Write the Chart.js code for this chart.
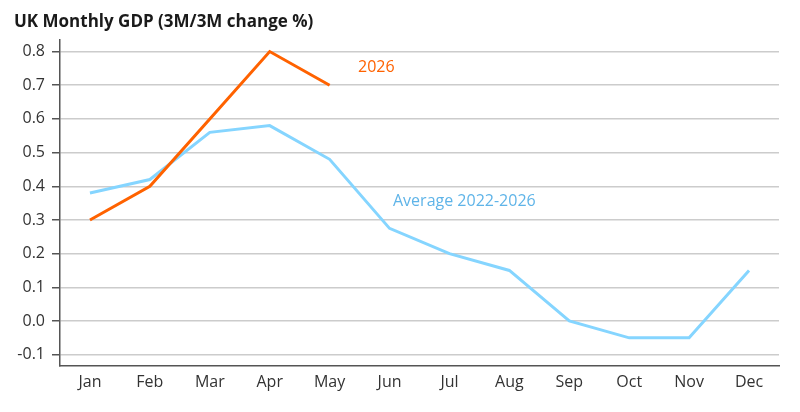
<!DOCTYPE html>
<html>
<head>
<meta charset="utf-8">
<script src="https://cdn.jsdelivr.net/npm/chart.js@4.4.1/dist/chart.umd.min.js"></script>
<style>
  html, body { margin: 0; padding: 0; background: #fff; }
  #wrap { width: 800px; height: 412px; }
</style>
</head>
<body>
<div id="wrap"><canvas id="gdpChart"></canvas></div>
<script>
const months = ["Jan", "Feb", "Mar", "Apr", "May", "Jun", "Jul", "Aug", "Sep", "Oct", "Nov", "Dec"];
const year2026 = [0.30, 0.40, 0.60, 0.80, 0.70];
const average = [0.38, 0.42, 0.56, 0.58, 0.48, 0.275, 0.20, 0.15, 0.00, -0.05, -0.05, 0.15];
const yTicks = [-0.1, 0.0, 0.1, 0.2, 0.3, 0.4, 0.5, 0.6, 0.7, 0.8];

const orange = "#ff6200";
const blue = "#85d5ff";
const font = "'Open Sans', 'Noto Sans', sans-serif";

// series labels drawn next to the lines
const lineLabels = {
  id: "lineLabels",
  afterDatasetsDraw(chart) {
    const ctx = chart.ctx;
    ctx.save();
    ctx.font = "16px " + font;
    ctx.textBaseline = "middle";
    ctx.fillStyle = orange;
    ctx.fillText("2026", 358, 67);
    ctx.fillStyle = "#5fb4e8";
    ctx.fillText("Average 2022-2026", 393, 201);
    ctx.restore();
  },
};

const ctx = document.getElementById("gdpChart").getContext("2d");
const chart = new Chart(ctx, {
  type: "line",
  data: {
    labels: months,
    datasets: [
      {
        label: "2026",
        data: year2026,
        borderColor: orange,
        borderWidth: 3,
        pointRadius: 0,
        tension: 0,
      },
      {
        label: "Average 2022-2026",
        data: average,
        borderColor: blue,
        borderWidth: 3,
        pointRadius: 0,
        tension: 0,
      },
    ],
  },
  options: {
    responsive: true,
    maintainAspectRatio: false,
    animation: false,
    layout: { padding: { left: 14, right: 21, top: 0, bottom: 13 } },
    plugins: {
      legend: { display: false },
      tooltip: { enabled: false },
      title: {
        display: true,
        text: "UK Monthly GDP (3M/3M change %)",
        align: "start",
        color: "#1a1a1a",
        font: { family: font, size: 17, weight: "bold" },
        padding: { top: 12, bottom: 7 },
      },
    },
    scales: {
      x: {
        offset: true,
        grid: { display: false, drawTicks: false },
        border: { color: "#555", width: 1.5 },
        ticks: { color: "#333", font: { family: font, size: 16 }, padding: 7 },
      },
      y: {
        min: -0.133,
        max: 0.836,
        afterBuildTicks(scale) {
          scale.ticks = yTicks.map((v) => ({ value: v }));
        },
        afterFit(scale) {
          scale.width = 46;
        },
        grid: { color: "#cccccc", lineWidth: 1.5, tickLength: 8, tickColor: "#555" },
        border: { color: "#555", width: 1.5 },
        ticks: {
          color: "#333",
          font: { family: font, size: 16 },
          padding: 7,
          callback: (v) => v.toFixed(1),
        },
      },
    },
  },
  plugins: [lineLabels],
});
</script>
</body>
</html>
